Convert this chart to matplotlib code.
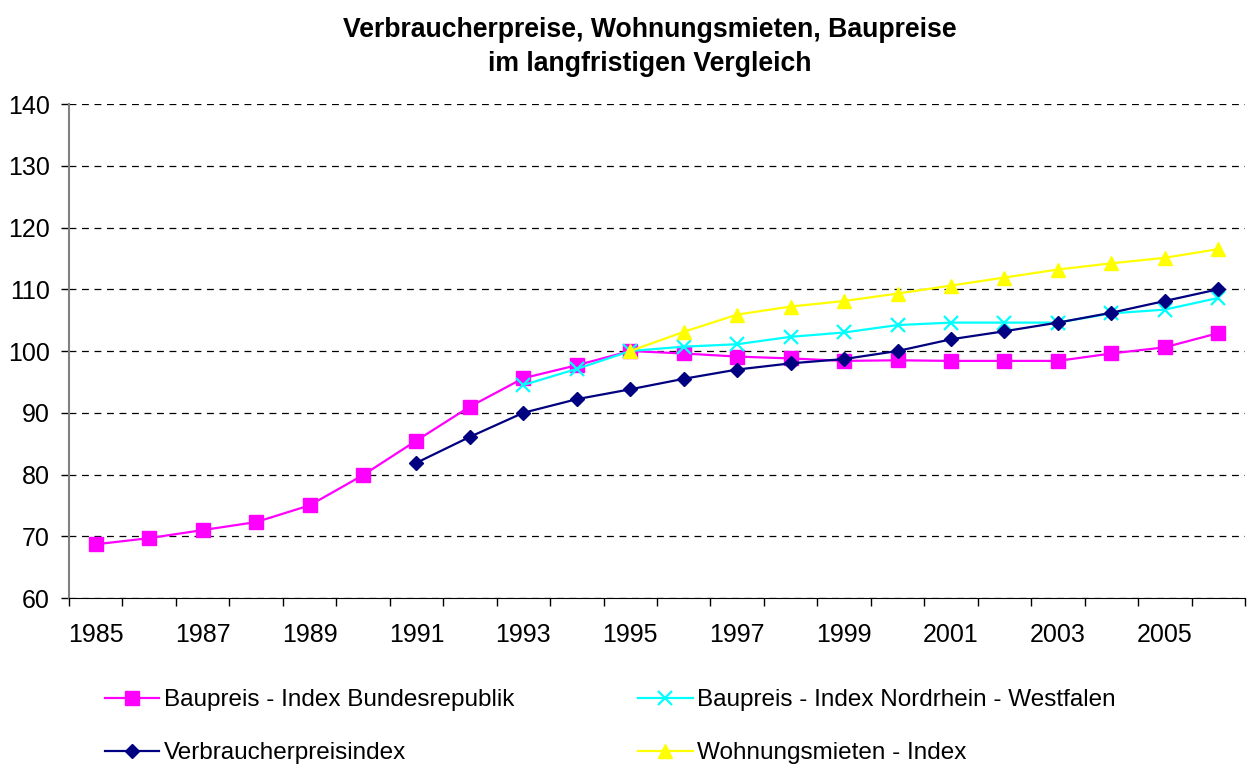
import numpy as np
import matplotlib
matplotlib.use("Agg")
import matplotlib.pyplot as plt

plt.rcParams['font.family'] = ['Liberation Sans', 'DejaVu Sans']

years = np.arange(1985, 2007)

# Baupreisindex Bundesrepublik (1995 = 100)
bau_brd = [68.7, 69.7, 71.0, 72.3, 75.0, 79.9, 85.5, 91.0, 95.6, 97.7, 100.0,
           99.6, 99.1, 98.8, 98.4, 98.5, 98.4, 98.4, 98.4, 99.6, 100.6, 102.9]
# Baupreisindex NRW, ab 1993
bau_nrw_years = np.arange(1993, 2007)
bau_nrw = [94.5, 97.1, 100.0, 100.7, 101.1, 102.3, 103.0, 104.2, 104.6, 104.6,
           104.6, 106.1, 106.7, 108.6]
# Verbraucherpreisindex, ab 1991
vpi_years = np.arange(1991, 2007)
vpi = [81.9, 86.1, 90.0, 92.2, 93.8, 95.5, 97.0, 98.0, 98.7, 100.0, 101.9,
       103.2, 104.6, 106.2, 108.1, 110.0]
# Wohnungsmieten, ab 1995
miete_years = np.arange(1995, 2007)
miete = [100.0, 103.1, 105.9, 107.2, 108.1, 109.3, 110.6, 111.9, 113.2, 114.2,
         115.1, 116.5]

labels = ["Baupreis - Index Bundesrepublik", "Baupreis - Index Nordrhein - Westfalen",
          "Verbraucherpreisindex", "Wohnungsmieten - Index"]

fig = plt.figure(figsize=(12.5, 7.67), dpi=100)
ax = fig.add_axes([0.0552, 0.2203, 0.9408, 0.6441])

l_brd, = ax.plot(years, bau_brd, color='#FF00FF', lw=1.6, marker='s', ms=10,
                 label=labels[0])
l_nrw, = ax.plot(bau_nrw_years, bau_nrw, color='#00FFFF', lw=1.6, marker='x',
                 ms=10, mew=1.6, label=labels[1])
l_vpi, = ax.plot(vpi_years, vpi, color='#000080', lw=1.6, marker='D', ms=7.5,
                 label=labels[2])
l_miete, = ax.plot(miete_years, miete, color='#FFFF00', lw=1.6, marker='^',
                   ms=10, label=labels[3])

ax.set_xlim(1984.5, 2006.5)
ax.set_ylim(60, 140)
ax.set_yticks(np.arange(60, 141, 10))
ax.set_xticks(np.arange(1985, 2006, 2))
ax.set_xticks(np.arange(1984.5, 2007, 1), minor=True)
ax.tick_params(axis='x', which='major', length=0, pad=18, labelsize=18)
ax.tick_params(axis='x', which='minor', length=6, width=1, direction='out')
ax.tick_params(axis='y', length=6, width=1, direction='out', labelsize=18, pad=8)

ax.grid(axis='y', color='black', linestyle=(0, (5.5, 4.5)), linewidth=0.9)
ax.set_axisbelow(True)
for s in ['top', 'right']:
    ax.spines[s].set_visible(False)
ax.spines['left'].set_color('#808080')
ax.spines['left'].set_linewidth(1.5)
ax.spines['bottom'].set_color('black')

fig.suptitle("Verbraucherpreise, Wohnungsmieten, Baupreise\nim langfristigen Vergleich",
             x=0.52, y=0.978, fontsize=19.2, fontweight='bold', linespacing=1.4)

fig.legend([l_brd, l_vpi, l_nrw, l_miete],
           [labels[0], labels[2], labels[1], labels[3]],
           ncol=2, loc='upper left', bbox_to_anchor=(0.076, 0.114),
           frameon=False, fontsize=17.5, handlelength=2.25, handletextpad=0.2,
           columnspacing=5.07, labelspacing=1.28, borderaxespad=0)

fig.savefig("out.png", dpi=100)
